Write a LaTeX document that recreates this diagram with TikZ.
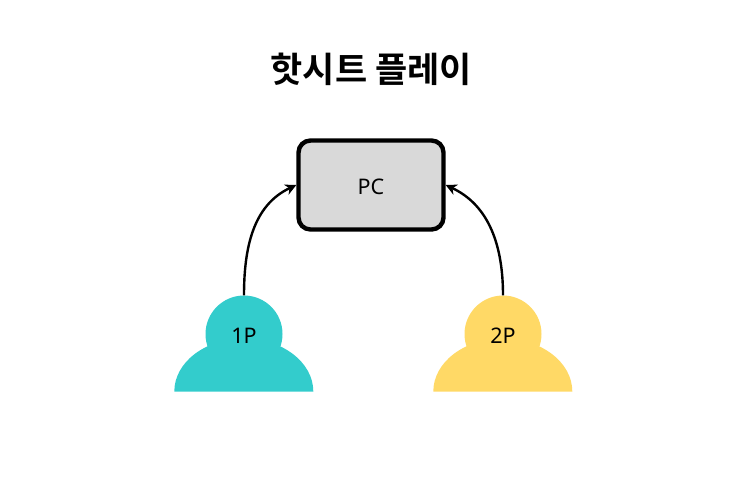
\documentclass[tikz,border=0pt]{standalone}
\usepackage{fontspec}
\setmainfont{Noto Sans}
\newfontfamily\krfont{Noto Sans CJK KR}[BoldFont={Noto Sans CJK KR Bold}]
\usetikzlibrary{arrows.meta}

\begin{document}
\begin{tikzpicture}[x=1pt,y=1pt,auto,node distance=259pt,
		link/.style={-{Stealth[length=11pt,width=11pt,inset=3.5pt]},line width=2.4pt},
		main node/.style={rectangle,draw,line width=4.4pt,rounded corners=12pt,fill=boxgray,
			minimum width=145pt,minimum height=89pt,text height=19pt,text depth=0pt,
			font=\fontsize{21.5pt}{26pt}\selectfont},
		head node/.style={circle,inner sep=0pt,minimum size=77pt,text height=19pt,text depth=0pt,
			font=\fontsize{21.5pt}{26pt}\selectfont}]
		\definecolor{boxgray}{HTML}{D9D9D9}
		\definecolor{tealcol}{HTML}{33CCCC}
		\definecolor{yellowcol}{HTML}{FFD966}
		\useasboundingbox (0,0) rectangle (743,-496);
		
		\node[font=\krfont\bfseries\fontsize{35pt}{42pt}\selectfont] (title) at (371.3,-69) {핫시트 플레이};
		\node[main node] (pc) at (371,-185) {PC};
		
		% bodies go first, heads sit on top of them
		\fill[tealcol] (174.3,-391.5) arc[start angle=180,end angle=0,x radius=69.5,y radius=53] -- cycle;
		\fill[yellowcol] (433.3,-391.5) arc[start angle=180,end angle=0,x radius=69.5,y radius=53] -- cycle;
		\node[head node,fill=tealcol] (p1) at (244,-334) {1P};
		\node[head node,fill=yellowcol] (p2) [right of=p1] {2P};
		
		\path[link]
		(p1.north) edge [out=90,in=205] (pc.west)
		(p2.north) edge [out=90,in=-25] (pc.east);
		\end{tikzpicture}
\end{document}
